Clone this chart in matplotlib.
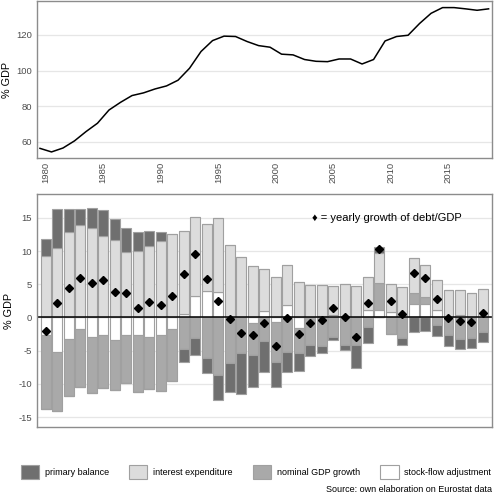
import numpy as np
import matplotlib
matplotlib.use("Agg")
import matplotlib.pyplot as plt
from matplotlib.patches import Patch

plt.rcParams["font.family"] = ["Liberation Sans", "DejaVu Sans"]
plt.rcParams["axes.unicode_minus"] = False

# debt/GDP level, end of year 1979..2018
debt_years = np.arange(1979, 2019)
debt = [56.4, 54.4, 56.6, 60.6, 65.8, 70.5, 77.9, 82.2, 86.0, 87.5,
        89.7, 91.4, 94.6, 101.3, 110.7, 116.8, 119.3, 119.1, 116.3, 114.0,
        113.1, 109.2, 108.8, 106.2, 105.2, 105.0, 106.5, 106.5, 103.7, 106.2,
        116.6, 119.1, 119.8, 126.4, 132.1, 135.3, 135.3, 134.6, 133.8, 134.6]

# contributions to the yearly change of debt/GDP, 1980..2018 (p.p. of GDP)
years = np.arange(1980, 2019)
primary = [2.6, 5.85, 3.5, 2.35, 3.1, 3.95, 3.15, 3.65, 2.85, 2.3,
           1.4, 0.0, -1.9, -2.6, -2.25, -3.85, -4.4, -6.15, -4.85, -4.65,
           -3.75, -2.9, -2.6, -1.65, -1.05, -0.5, -0.75, -3.5, -2.4, 0.85,
           0.0, -1.0, -2.15, -2.0, -1.65, -1.6, -1.5, -1.4, -1.45]
interest = [9.2, 10.5, 12.85, 14.0, 13.45, 12.3, 11.7, 9.85, 10.0, 10.7,
            11.55, 12.6, 12.6, 12.0, 10.1, 11.1, 10.95, 9.1, 7.8, 6.35,
            6.1, 5.95, 5.4, 4.95, 4.65, 4.4, 5.0, 4.7, 4.95, 4.5,
            4.3, 4.55, 5.25, 4.8, 4.6, 4.1, 3.85, 3.75, 4.35]
gdp_growth = [-11.15, -9.0, -8.65, -8.65, -8.4, -7.95, -7.55, -7.25, -8.65, -7.85,
              -8.55, -7.75, -4.75, -3.05, -6.05, -8.65, -6.9, -5.35, -4.75, -3.5,
              -6.0, -5.25, -3.75, -4.15, -4.25, -2.9, -4.15, -4.15, -1.4, 4.15,
              -2.55, -3.15, 1.75, 1.0, -1.15, -2.65, -3.25, -3.15, -2.25]
sfa = [-2.65, -5.15, -3.25, -1.75, -3.0, -2.7, -3.45, -2.65, -2.65, -2.95,
       -2.6, -1.8, 0.5, 3.2, 4.0, 3.85, 0.0, 0.0, -0.9, 0.9,
       -0.65, 1.95, -1.65, 0.0, 0.25, 0.35, 0.0, 0.0, 1.1, 1.1,
       0.75, 0.0, 2.0, 2.1, 1.1, 0.0, 0.35, 0.0, 0.0]
debt_change = [-2.05, 2.25, 4.5, 6.0, 5.25, 5.7, 3.85, 3.7, 1.5, 2.3,
               1.85, 3.2, 6.5, 9.6, 5.85, 2.45, -0.3, -2.3, -2.7, -0.85,
               -4.3, -0.15, -2.5, -0.9, -0.4, 1.45, 0.1, -2.9, 2.25, 10.35,
               2.55, 0.5, 6.75, 5.95, 2.85, -0.15, -0.55, -0.65, 0.6]

DARK, LIGHT, MID, WHITE = "#6f6f6f", "#dcdcdc", "#a9a9a9", "#ffffff"
EDGE, FRAME, GRID, TXT = "#a0a0a0", "#8c8c8c", "#e6e6e6", "#4d4d4d"
XLIM = (1979.24, 2018.76)

fig = plt.figure(figsize=(4.96, 5.0), dpi=100)
ax1 = fig.add_axes([0.0746, 0.684, 0.9165, 0.314])
ax2 = fig.add_axes([0.0746, 0.146, 0.9165, 0.466])

for ax in (ax1, ax2):
    for s in ax.spines.values():
        s.set_color(FRAME); s.set_linewidth(1)
    ax.set_axisbelow(True)
    ax.grid(axis="y", color=GRID, lw=0.9)
    ax.tick_params(length=0, labelsize=6.8, labelcolor=TXT)
    ax.set_xlim(*XLIM)
    ax.set_ylabel("% GDP", fontsize=7.8, labelpad=3)

# top: debt level (year-end stock drawn at the year boundary)
ax1.plot(debt_years + 0.5, debt, color="black", lw=1.1)
ax1.set_ylim(51, 139)
ax1.set_yticks([60, 80, 100, 120])
ax1.set_xticks(np.arange(1980, 2016, 5))
ax1.tick_params(axis="x", rotation=90, pad=3)

# bottom: diverging stacked contributions
pos = np.zeros(len(years)); neg = np.zeros(len(years))
for vals, col in [(sfa, WHITE), (gdp_growth, MID), (interest, LIGHT), (primary, DARK)]:
    v = np.array(vals)
    p = np.where(v > 0, v, 0); n = np.where(v < 0, v, 0)
    ax2.bar(years, p, bottom=pos, width=0.84, color=col, edgecolor=EDGE, lw=0.8)
    ax2.bar(years, n, bottom=neg, width=0.84, color=col, edgecolor=EDGE, lw=0.8)
    pos += p; neg += n
ax2.axhline(0, color="black", lw=1.1)
ax2.plot(years, debt_change, "D", color="black", ms=4.2, ls="none")
ax2.set_ylim(-16.5, 18.6)
ax2.set_yticks(np.arange(-15, 16, 5))
ax2.set_xticks([])
ax2.text(0.605, 0.898, "\u2666 = yearly growth of debt/GDP", transform=ax2.transAxes,
         fontsize=8, va="center", ha="left", family=["Liberation Sans", "DejaVu Sans"])

handles = [Patch(facecolor=c, edgecolor=EDGE, lw=0.8) for c in (DARK, LIGHT, MID, WHITE)]
fig.legend(handles, ["primary balance", "interest expenditure", "nominal GDP growth",
                     "stock-flow adjustment"],
           loc="center", bbox_to_anchor=(0.516, 0.056), ncol=4, frameon=False, fontsize=6.5,
           handlelength=2.0, handleheight=2.0, handletextpad=0.6, columnspacing=2.3)
fig.text(0.991, 0.02, "Source: own elaboration on Eurostat data", ha="right", va="center",
         fontsize=6.5)

fig.savefig("out.png", dpi=100)
